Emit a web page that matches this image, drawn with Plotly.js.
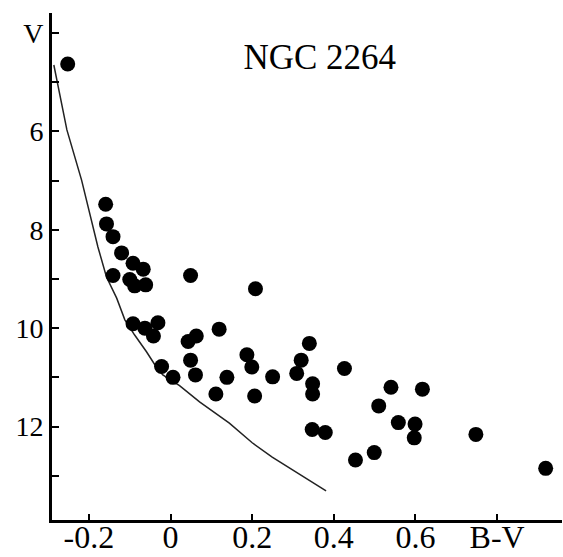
<!DOCTYPE html>
<html>
<head>
<meta charset="utf-8">
<script src="https://cdn.plot.ly/plotly-3.0.1.min.js"></script>
<style>html,body{margin:0;padding:0;background:#fff;}#chart{width:563px;height:557px;}</style>
</head>
<body>
<div id="chart"></div>
<script>
// Star photometry (B-V colour, V magnitude)
const starBV = [-0.252,-0.159,-0.157,-0.141,-0.120,-0.092,-0.067,-0.141,-0.100,-0.088,-0.061,0.049,
  -0.092,-0.063,-0.031,-0.042,0.043,0.063,0.119,-0.022,0.006,0.049,0.061,0.138,0.111,0.187,0.199,0.206,
  0.250,0.208,0.340,0.320,0.309,0.348,0.348,0.426,0.540,0.617,0.510,0.558,0.599,0.597,0.347,0.379,
  0.453,0.499,0.748,0.919];
const starV = [4.63,7.48,7.88,8.14,8.47,8.68,8.80,8.93,9.01,9.14,9.12,8.93,
  9.91,10.00,9.89,10.16,10.27,10.16,10.02,10.78,11.00,10.65,10.95,11.00,11.34,10.54,10.79,11.38,
  10.99,9.20,10.31,10.65,10.92,11.13,11.34,10.82,11.20,11.24,11.58,11.92,11.95,12.23,12.06,12.12,
  12.68,12.53,12.16,12.85];
// Main sequence curve
const msBV = [-0.286,-0.254,-0.218,-0.178,-0.157,-0.132,-0.112,-0.088,-0.059,-0.035,-0.019,0.022,0.071,0.144,0.200,0.249,0.381];
const msV  = [4.65,5.97,6.99,8.35,8.96,9.39,9.83,10.14,10.48,10.79,10.95,11.17,11.50,11.93,12.33,12.62,13.31];
// Tick labels
const xTickVals = [-0.2,0,0.2,0.4,0.6,0.8];
const xTickText = ["-0.2","0","0.2","0.4","0.6","B-V"];
const yTickVals = [4,5,6,7,8,9,10,11,12,13];
const yTickText = ["V","","6","","8","","10","","12",""];

const serif = "'Liberation Serif', 'DejaVu Serif', serif";
const traces = [
  {x: msBV, y: msV, mode: "lines", line: {color: "#222", width: 1.5}, hoverinfo: "skip"},
  {x: starBV, y: starV, mode: "markers", marker: {color: "#000", size: 15, line: {width: 0}}}
];
const layout = {
  width: 563, height: 557,
  margin: {l: 52, r: 1, t: 13, b: 37},
  paper_bgcolor: "#fff", plot_bgcolor: "#fff",
  showlegend: false,
  font: {family: serif, color: "#000"},
  title: {text: "NGC 2264", x: 0.568, xref: "container", xanchor: "center",
          y: 0.899, yref: "container", yanchor: "middle",
          font: {family: serif, size: 35, color: "#000"}},
  xaxis: {range: [-0.2905, 0.959], showgrid: false, zeroline: false,
          showline: true, linewidth: 3, linecolor: "#000",
          ticks: "inside", ticklen: 6, tickwidth: 2, tickcolor: "#000",
          tickvals: xTickVals, ticktext: xTickText, ticklabelstandoff: -13,
          tickfont: {family: serif, size: 32, color: "#000"}},
  yaxis: {range: [13.90, 3.593], showgrid: false, zeroline: false,
          showline: true, linewidth: 3, linecolor: "#000",
          ticks: "inside", ticklen: 7, tickwidth: 2, tickcolor: "#000",
          tickvals: yTickVals, ticktext: yTickText,
          tickfont: {family: serif, size: 28, color: "#000"}}
};
Plotly.newPlot("chart", traces, layout, {displayModeBar: false, staticPlot: true});
</script>
</body>
</html>
